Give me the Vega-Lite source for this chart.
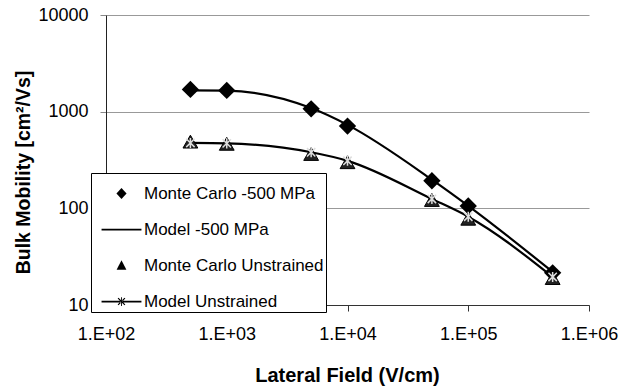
{
  "$schema": "https://vega.github.io/schema/vega-lite/v6.json",
  "width": 483,
  "height": 290,
  "autosize": {"type": "none"},
  "padding": {"left": 106, "top": 15, "right": 40, "bottom": 83},
  "background": "white",
  "config": {"view": {"stroke": null}, "font": "Liberation Sans"},
  "data": {"values": [
    {"series": "Monte Carlo -500 MPa", "x": 500, "y": 1700},
    {"series": "Monte Carlo -500 MPa", "x": 1000, "y": 1660},
    {"series": "Monte Carlo -500 MPa", "x": 5000, "y": 1070},
    {"series": "Monte Carlo -500 MPa", "x": 10000, "y": 710},
    {"series": "Monte Carlo -500 MPa", "x": 50000, "y": 193},
    {"series": "Monte Carlo -500 MPa", "x": 100000, "y": 106},
    {"series": "Monte Carlo -500 MPa", "x": 500000, "y": 21.5},
    {"series": "Model -500 MPa", "x": 500, "y": 1660},
    {"series": "Model -500 MPa", "x": 1000, "y": 1650},
    {"series": "Model -500 MPa", "x": 5000, "y": 1090},
    {"series": "Model -500 MPa", "x": 10000, "y": 730},
    {"series": "Model -500 MPa", "x": 50000, "y": 198},
    {"series": "Model -500 MPa", "x": 100000, "y": 106},
    {"series": "Model -500 MPa", "x": 500000, "y": 22},
    {"series": "Monte Carlo Unstrained", "x": 500, "y": 490},
    {"series": "Monte Carlo Unstrained", "x": 1000, "y": 465},
    {"series": "Monte Carlo Unstrained", "x": 5000, "y": 365},
    {"series": "Monte Carlo Unstrained", "x": 10000, "y": 300},
    {"series": "Monte Carlo Unstrained", "x": 50000, "y": 122},
    {"series": "Monte Carlo Unstrained", "x": 100000, "y": 78},
    {"series": "Monte Carlo Unstrained", "x": 500000, "y": 19},
    {"series": "Model Unstrained", "x": 500, "y": 475},
    {"series": "Model Unstrained", "x": 1000, "y": 470},
    {"series": "Model Unstrained", "x": 5000, "y": 380},
    {"series": "Model Unstrained", "x": 10000, "y": 310},
    {"series": "Model Unstrained", "x": 50000, "y": 125},
    {"series": "Model Unstrained", "x": 100000, "y": 82},
    {"series": "Model Unstrained", "x": 500000, "y": 19.5}
  ]},
  "encoding": {
    "x": {
      "field": "x", "type": "quantitative",
      "scale": {"type": "log", "domain": [100, 1000000], "nice": false},
      "axis": {
        "values": [100, 1000, 10000, 100000, 1000000],
        "labelExpr": "'1.E+0' + format(log(datum.value)/LN10, 'd')",
        "grid": false,
        "domainColor": "#333", "tickColor": "#333", "tickSize": 6,
        "labelFont": "Liberation Sans", "labelFontSize": 18, "labelColor": "black",
        "labelPadding": 14, "labelFlush": false,
        "title": "Lateral Field (V/cm)",
        "titleFont": "Liberation Sans", "titleFontSize": 20, "titleFontWeight": "bold", "titleColor": "black",
        "titleX": 241, "titleY": 70, "titleBaseline": "middle", "titleAlign": "center"
      }
    },
    "y": {
      "field": "y", "type": "quantitative",
      "scale": {"type": "log", "domain": [10, 10000], "nice": false},
      "axis": {
        "values": [10, 100, 1000, 10000],
        "format": "d",
        "grid": true, "gridColor": "#999", "gridWidth": 1,
        "domainColor": "#222", "tickColor": "#888", "tickSize": 6,
        "labelFont": "Liberation Sans", "labelFontSize": 18, "labelColor": "black",
        "labelPadding": 12,
        "title": "Bulk Mobility [cm²/Vs]",
        "titleFont": "Liberation Sans", "titleFontSize": 19.5, "titleFontWeight": "bold", "titleColor": "black",
        "titleX": -83, "titleY": 157, "titleBaseline": "middle", "titleAlign": "center", "titleAngle": -90
      }
    }
  },
  "layer": [
    {"transform": [{"filter": "datum.series === 'Model -500 MPa'"}],
     "mark": {"type": "line", "interpolate": "monotone", "color": "black", "strokeWidth": 2.2}},
    {"transform": [{"filter": "datum.series === 'Model Unstrained'"}],
     "mark": {"type": "line", "interpolate": "monotone", "color": "black", "strokeWidth": 2.2}},
    {"transform": [{"filter": "datum.series === 'Monte Carlo -500 MPa'"}],
     "mark": {"type": "point", "shape": "diamond", "filled": true, "color": "black", "opacity": 1, "size": 300}},
    {"transform": [{"filter": "datum.series === 'Monte Carlo Unstrained'"}],
     "mark": {"type": "point", "shape": "triangle-up", "filled": true, "fill": "#222", "stroke": "black", "strokeWidth": 1, "opacity": 1, "size": 220}},
    {"transform": [{"filter": "datum.series === 'Model Unstrained'"}],
     "mark": {"type": "point", "shape": "M-1,-1L1,1M1,-1L-1,1M0,-1.2L0,1.2", "filled": false, "stroke": "#ddd", "strokeWidth": 1.5, "opacity": 1, "size": 70}},
    {"transform": [{"filter": "false"}],
     "mark": {"type": "point", "filled": true, "fill": "black", "opacity": 1},
     "encoding": {
       "shape": {
         "field": "series", "type": "nominal",
         "scale": {
           "domain": ["Monte Carlo -500 MPa", "Model -500 MPa", "Monte Carlo Unstrained", "Model Unstrained"],
           "range": [
             "M0,-0.31L0.29,0L0,0.31L-0.29,0Z",
             "M-1.14,-0.05L1.14,-0.05L1.14,0.05L-1.14,0.05Z",
             "M0,-0.3L0.28,0.24L-0.28,0.24Z",
             "M-1.14,-0.05L1.14,-0.05L1.14,0.05L-1.14,0.05Z M-0.22,-0.17L-0.17,-0.22L0.22,0.17L0.17,0.22Z M0.22,-0.17L0.17,-0.22L-0.22,0.17L-0.17,0.22Z M-0.025,-0.25L0.025,-0.25L0.025,0.25L-0.025,0.25Z"
           ]
         },
         "legend": {
           "orient": "none", "legendX": -15, "legendY": 158,
           "title": null, "padding": 2,
           "symbolSize": 1225, "symbolOffset": 10, "labelOffset": 4,
           "symbolFillColor": "black", "symbolStrokeColor": "black",
           "labelFont": "Liberation Sans", "labelFontSize": 17, "labelColor": "black", "labelLimit": 300,
           "strokeColor": "black", "fillColor": "white", "rowPadding": 9,
           "encode": {"symbols": {"update": {"fill": {"value": "black"}, "opacity": {"value": 1}}}}
         }
       }
     }}
  ]
}
